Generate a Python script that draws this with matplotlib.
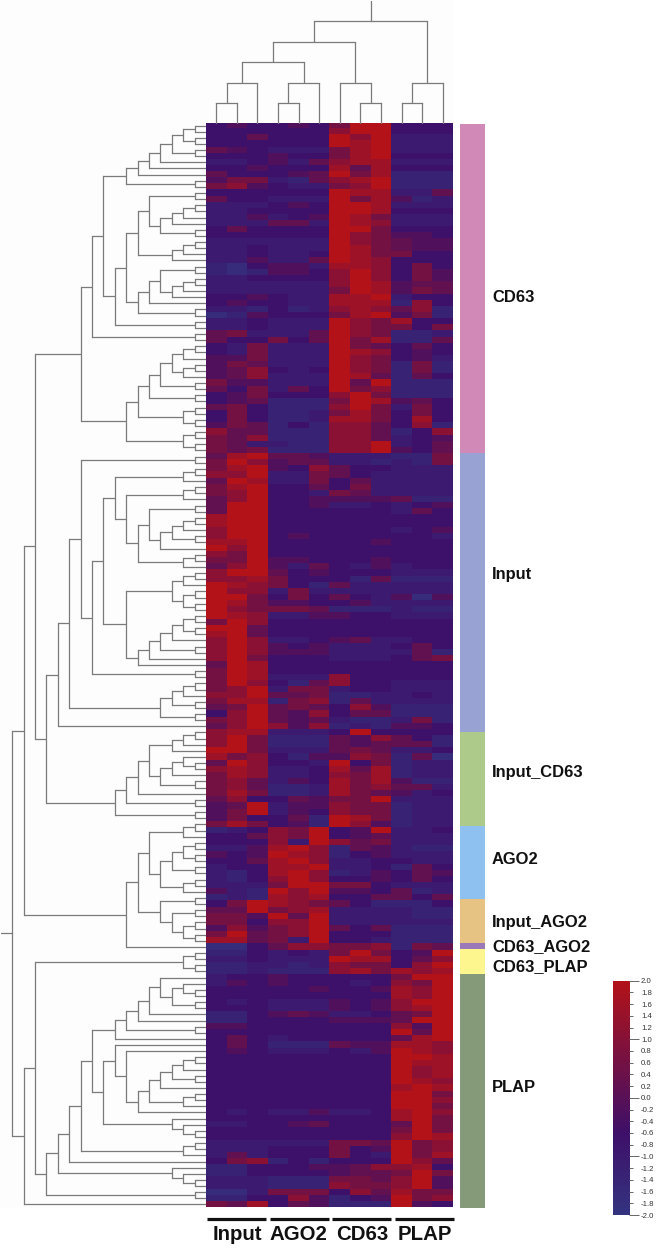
"""Clustered heatmap with row and column dendrograms and group side bar."""
import matplotlib
matplotlib.use("Agg")
import matplotlib.pyplot as plt
import numpy as np
from matplotlib.colors import LinearSegmentedColormap
from matplotlib.ticker import FixedLocator

plt.rcParams["font.family"] = ["Liberation Sans", "DejaVu Sans"]

W, H = 660, 1248

# digit code -> z score
LEVELS = [-1.7, -1.3, -1.0, -0.6, -0.2, 0.2, 0.6, 1.1, 1.5, 2.0]

# columns: Input x3, AGO2 x3, CD63 x3, PLAP x3
ROWS_CD63 = [
    "343343699333", "333333799333", "335333979222", "333333989222", "543222689222",
    "333433689333", "223425788222", "334333858333", "533345968111", "466215789111",
    "674322679111", "333333988225", "533222968412", "222343998222", "223333998333",
    "224234986222", "222552987222", "353333996333", "333333976443", "222222976544",
    "223222986544", "223223986633", "224225987333", "103442887363", "101443797364",
    "223333797364", "222222798455", "222222698465", "334322889233", "343322888173",
    "221312787571", "014333689461", "223222976833", "223222976636", "562225976112",
    "533635968115", "326222965353", "326222987343", "446222976342", "465222976161",
    "457323976161", "457222985153", "644222959111", "536253967111", "346333796111",
    "345111698453", "563111796263", "363112686363", "363112886383", "465131775371",
    "755111775137", "657111775234", "652211779235", "656111779435",
]
ROWS_INPUT = [
    "589554222116", "697455221216", "689437533222", "779226532222", "598226352222",
    "689335362222", "679332652222", "579334444511", "599334223234", "599333333253",
    "899333333333", "899333333333", "799333333234", "799343333332", "889333334333",
    "979333333333", "769333333333", "669443334333", "579425324233", "799534333222",
    "778633315111", "987631522222", "977262222222", "996363532404", "986443342222",
    "976665111211", "987224433222", "697333333333", "995333333333", "895333333333",
    "797223452233", "797434222353", "797444222251", "796333222356", "598333333333",
    "698333333333", "698222733333", "697315733222", "679266233222", "779556112232",
    "688167152222", "569565374111", "379547355111", "679545211261", "579747121443",
    "788222393333",
]
ROWS_INPUT_CD63 = [
    "796111547531", "796111545551", "996222565223", "867314476150", "597332936122",
    "787223858122", "687223768122", "675243868411", "675112867552", "686112865423",
    "573354669222", "459244766122", "469243766122", "463351986122", "686341974122",
]
ROWS_AGO2 = [
    "123769349223", "335769345222", "333729756222", "224897154211", "434987134222",
    "335897223322", "233889223153", "213897124354", "213797334353", "222699663222",
    "421979443512", "121878335535",
]
ROWS_INPUT_AGO2 = [
    "369876531113", "559678222211", "664959222211", "663779222222", "474679535111",
    "695679333111", "885629332111",
]
ROWS_CD63_AGO2 = ["003577667165"]
ROWS_CD63_PLAP = ["113232696349", "223222988357", "112212766379", "112111786878"]
ROWS_PLAP = [
    "233433333699", "243433323769", "333334334879", "333333333879", "323222434799",
    "333222434789", "113454223569", "113333444599", "443333333749", "333333333959",
    "353233333589", "353111544887", "343222324987", "333333333998", "333333333988",
    "333333333978", "333333333978", "333333333987", "333333333898", "333333333996",
    "333333333997", "333333333996", "323224223897", "333333333896", "223345333596",
    "333333333696", "333333333798", "222222665967", "222333634967", "252333632968",
    "367131333975", "113334457783", "113333455696", "222111665794", "222111766794",
    "002666375866", "113374134967", "658354111943",
]
ALL_ROWS = (ROWS_CD63 + ROWS_INPUT + ROWS_INPUT_CD63 + ROWS_AGO2 + ROWS_INPUT_AGO2
            + ROWS_CD63_AGO2 + ROWS_CD63_PLAP + ROWS_PLAP)

# trees: [level, child, child], 0 is a leaf
C = [1, 0, 0]
COL_TREE = [5, [4, [3, [2, C, 0], [2, C, 0]], [2, 0, C]], [2, C, 0]]

T_A = [7, [6, [5, [4, [3, [2, C, C], C], 0], 0], 0], C]
T_B = [6, [5, C, [4, [3, [2, C, 0], 0], C]], [3, [2, C, 0], 0]]
T_C = [6, [5, [4, C, [3, [2, C, 0], 0]], 0], C]
T_TOP = [11, [10, [9, T_A, [8, [7, T_B, T_C], C]], C],
         [7, [6, [5, [4, [3, [2, C, 0], [2, C, 0]], C], C], [2, C, C]], [2, C, C]]]
M_A = [8, [2, C, 0], [7, [2, C, 0], [6, [5, C, [4, [3, [2, C, 0], C], 0]], [2, C, 0]]]]
M_B = [7, [3, [2, C, 0], [2, C, C]], [6, [5, [4, [3, [2, C, C], 0], C], 0], 0]]
M_E = [4, [3, [2, C, 0], C], C]
M_TOP = [13, [12, [11, C, [10, [9, M_A, M_B], C]], M_E], 0]
M_F = [8, [7, [6, [5, [3, [2, C, 0], 0], [4, [3, [2, 0, C], 0], C]], 0], C], C]
L_A = [7, [6, [5, [2, C, 0], [4, [3, [2, C, C], C], [2, C, 0]]],
           [4, C, [3, C, [2, C, C]]]], 0]
UPPER = [16, [15, T_TOP, [14, M_TOP, M_F]], L_A]
B_A = [8, [7, [6, [5, [4, 0, [3, [2, 0, C], C]], 0], 0], C], 0]
B_B = [9, [8, 0, [7, 0, [6, [5, [4, [3, [2, C, 0], C], 0], [2, C, 0]], 0]]], [3, 0, [2, 0, C]]]
B_C = [13, [12, [11, [10, B_A, B_B], [2, C, 0]], 0], [3, 0, [2, 0, C]]]
LOWER = [16, [15, [2, C, C], [14, B_C, C]], 0]
ROW_TREE = [17, UPPER, LOWER]

GROUP_NAMES = ["CD63", "Input", "Input_CD63", "AGO2", "Input_AGO2", "CD63_AGO2", "CD63_PLAP", "PLAP"]
GROUP_COLORS = ["#d18ab8", "#98a3d4", "#aeca8b", "#8fc1f0", "#e6c283", "#9b79b8", "#fdf58d", "#859a78"]
GROUP_EDGES = [124, 452.7, 732, 825.7, 899.3, 942.7, 949, 974, 1208]
GROUP_LABEL_Y = [297, 575, 772.5, 859, 922, 947, 967, 1087]
COLUMN_GROUPS = ["Input", "AGO2", "CD63", "PLAP"]
COLUMN_LABEL_X = [237, 298, 362.5, 425]
COLUMN_BAR_START = [206.5, 269.5, 332, 395]
CBAR_TICKS = np.round(np.arange(-2.0, 2.01, 0.2), 1)
CBAR_MAJOR = [-2.0, -1.0, 0.0, 1.0, 2.0]

cmap = LinearSegmentedColormap.from_list(
    "bpr", [(0, "#343480"), (1.4 / 4, "#3e1069"), (1, "#b31318")])
TREE_COLOR = "#7a7a7a"


def px_axes(fig, x0, y0, x1, y1):
    ax = fig.add_axes([x0 / W, 1 - y1 / H, (x1 - x0) / W, (y1 - y0) / H])
    ax.patch.set_alpha(0)
    ax.axis("off")
    return ax


def count_leaves(node):
    return 1 if node == 0 else count_leaves(node[1]) + count_leaves(node[2])


def draw_tree(ax, node, leaves, sideways):
    """Returns (position, level) of node; sideways means levels run along x."""
    if node == 0:
        return next(leaves), 0
    pos = []
    for child in node[1:]:
        p, lev = draw_tree(ax, child, leaves, sideways)
        pos.append(p)
        xs, ys = [lev, node[0]], [p, p]
        ax.plot(*((xs, ys) if sideways else (ys, xs)), color=TREE_COLOR, lw=0.9, solid_capstyle="butt")
    xs, ys = [node[0], node[0]], pos
    ax.plot(*((xs, ys) if sideways else (ys, xs)), color=TREE_COLOR, lw=0.9, solid_capstyle="projecting")
    return sum(pos) / 2, node[0]


fig = plt.figure(figsize=(W / 100, H / 100), dpi=100, facecolor="white")

# near-white panel behind the trees
bg = px_axes(fig, 0, 0, 453, 1208)
bg.axis("on")
bg.set_xticks([])
bg.set_yticks([])
for s in bg.spines.values():
    s.set_visible(False)
bg.patch.set_alpha(1)
bg.set_facecolor("#fdfdfd")

# heatmap
data = np.array([[LEVELS[int(ch)] for ch in row] for row in ALL_ROWS])
n_rows, n_cols = data.shape
assert count_leaves(ROW_TREE) == n_rows, count_leaves(ROW_TREE)
ax = px_axes(fig, 206, 122.5, 453, 1207.5)
ax.imshow(data, cmap=cmap, vmin=-2, vmax=2, aspect="auto", interpolation="nearest")

# row dendrogram
ax_l = px_axes(fig, 1, 122.5, 206, 1207.5)
ax_l.set_xlim(17.98, 0)
ax_l.set_ylim(n_rows, 0)
p, lev = draw_tree(ax_l, ROW_TREE, iter(np.arange(n_rows) + 0.5), True)
ax_l.plot([lev, 17.98], [p, p], color=TREE_COLOR, lw=0.9)

# column dendrogram
ax_t = px_axes(fig, 206, 1, 453, 123.5)
ax_t.set_xlim(0, n_cols)
ax_t.set_ylim(0, 6)
p, lev = draw_tree(ax_t, COL_TREE, iter(np.arange(n_cols) + 0.5), False)
ax_t.plot([p, p], [lev, 6], color=TREE_COLOR, lw=0.9)

# group side bar and labels, y in picture pixels
ax_s = px_axes(fig, 460, 0, 660, H)
ax_s.set_xlim(460, 660)
ax_s.set_ylim(H, 0)
edges = np.array(GROUP_EDGES)
ax_s.bar(472.5, np.diff(edges), width=25, bottom=edges[:-1], color=GROUP_COLORS, linewidth=0)
for name, y in zip(GROUP_NAMES, GROUP_LABEL_Y):
    ax_s.text(492, y, name, fontsize=11.9, fontweight="bold", ha="left", va="center", color="#111111")

# column group bars and labels, in picture pixels
ax_b = px_axes(fig, 200, 1208, 460, H)
ax_b.set_xlim(200, 460)
ax_b.set_ylim(H, 1208)
for name, x, start in zip(COLUMN_GROUPS, COLUMN_LABEL_X, COLUMN_BAR_START):
    ax_b.plot([start, start + 59], [1219, 1219], color="#111111", lw=2.3, solid_capstyle="butt")
    ax_b.text(x, 1235, name, fontsize=14.7, fontweight="bold", ha="center", va="center", color="#111111")

# colour bar
ax_c = fig.add_axes([612.7 / W, 1 - 1215 / H, 16.6 / W, 234.3 / H])
ax_c.imshow(np.linspace(2, -2, 256)[:, None], cmap=cmap, vmin=-2, vmax=2, aspect="auto", extent=[0, 1, -2, 2])
ax_c.set_xticks([])
ax_c.yaxis.tick_right()
ax_c.yaxis.set_major_locator(FixedLocator(CBAR_MAJOR))
ax_c.set_yticklabels(["%.1f" % v for v in CBAR_MAJOR])
minor = [v for v in CBAR_TICKS if v not in CBAR_MAJOR]
ax_c.yaxis.set_minor_locator(FixedLocator(minor))
ax_c.set_yticklabels(["%.1f" % v for v in minor], minor=True)
ax_c.tick_params(axis="y", which="major", length=7, width=0.7, color="#666666", pad=1.5, labelsize=5.6, labelcolor="#333333")
ax_c.tick_params(axis="y", which="minor", length=3, width=0.7, color="#666666", pad=5.5, labelsize=5.6, labelcolor="#333333")
for s in ax_c.spines.values():
    s.set_visible(False)

fig.savefig("out.png", dpi=100)
